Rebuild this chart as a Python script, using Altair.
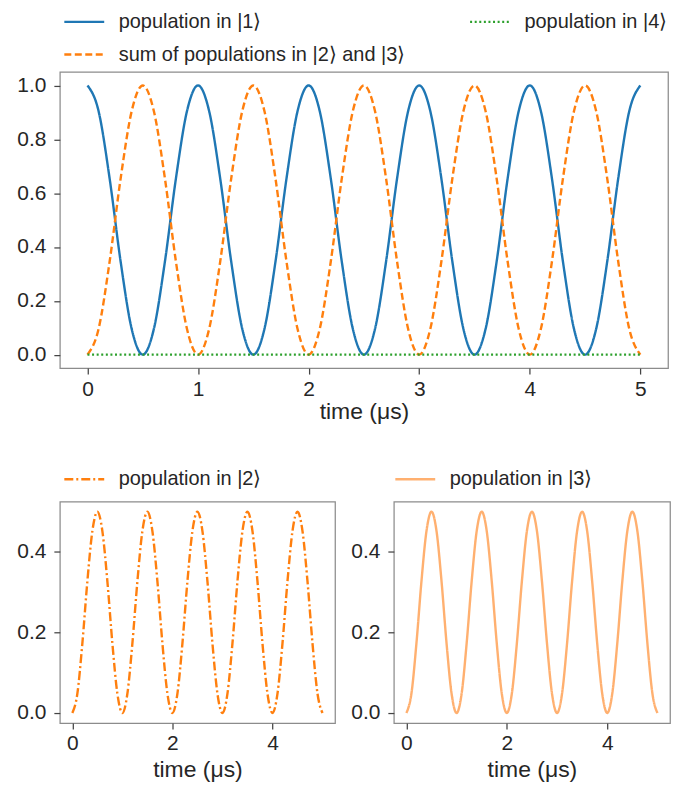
import altair as alt
import pandas as pd

# time grid (microseconds)
time = [0.0, 0.1, 0.2, 0.3, 0.4, 0.5, 0.6, 0.7, 0.8, 0.9,
        1.0, 1.1, 1.2, 1.3, 1.4, 1.5, 1.6, 1.7, 1.8, 1.9,
        2.0, 2.1, 2.2, 2.3, 2.4, 2.5, 2.6, 2.7, 2.8, 2.9,
        3.0, 3.1, 3.2, 3.3, 3.4, 3.5, 3.6, 3.7, 3.8, 3.9,
        4.0, 4.1, 4.2, 4.3, 4.4, 4.5, 4.6, 4.7, 4.8, 4.9,
        5.0]

pop1 = [1.000, 0.905, 0.655, 0.345, 0.095, 0.000, 0.095, 0.345, 0.655, 0.905,
        1.000, 0.905, 0.655, 0.345, 0.095, 0.000, 0.095, 0.345, 0.655, 0.905,
        1.000, 0.905, 0.655, 0.345, 0.095, 0.000, 0.095, 0.345, 0.655, 0.905,
        1.000, 0.905, 0.655, 0.345, 0.095, 0.000, 0.095, 0.345, 0.655, 0.905,
        1.000, 0.905, 0.655, 0.345, 0.095, 0.000, 0.095, 0.345, 0.655, 0.905,
        1.000]

pop23 = [0.000, 0.095, 0.345, 0.655, 0.905, 1.000, 0.905, 0.655, 0.345, 0.095,
         0.000, 0.095, 0.345, 0.655, 0.905, 1.000, 0.905, 0.655, 0.345, 0.095,
         0.000, 0.095, 0.345, 0.655, 0.905, 1.000, 0.905, 0.655, 0.345, 0.095,
         0.000, 0.095, 0.345, 0.655, 0.905, 1.000, 0.905, 0.655, 0.345, 0.095,
         0.000, 0.095, 0.345, 0.655, 0.905, 1.000, 0.905, 0.655, 0.345, 0.095,
         0.000]

pop4 = [0.0, 0.0, 0.0, 0.0, 0.0, 0.0, 0.0, 0.0, 0.0, 0.0,
        0.0, 0.0, 0.0, 0.0, 0.0, 0.0, 0.0, 0.0, 0.0, 0.0,
        0.0, 0.0, 0.0, 0.0, 0.0, 0.0, 0.0, 0.0, 0.0, 0.0,
        0.0, 0.0, 0.0, 0.0, 0.0, 0.0, 0.0, 0.0, 0.0, 0.0,
        0.0, 0.0, 0.0, 0.0, 0.0, 0.0, 0.0, 0.0, 0.0, 0.0,
        0.0]

pop2 = [0.000, 0.048, 0.173, 0.327, 0.452, 0.500, 0.452, 0.327, 0.173, 0.048,
        0.000, 0.048, 0.173, 0.327, 0.452, 0.500, 0.452, 0.327, 0.173, 0.048,
        0.000, 0.048, 0.173, 0.327, 0.452, 0.500, 0.452, 0.327, 0.173, 0.048,
        0.000, 0.048, 0.173, 0.327, 0.452, 0.500, 0.452, 0.327, 0.173, 0.048,
        0.000, 0.048, 0.173, 0.327, 0.452, 0.500, 0.452, 0.327, 0.173, 0.048,
        0.000]

pop3 = [0.000, 0.048, 0.173, 0.327, 0.452, 0.500, 0.452, 0.327, 0.173, 0.048,
        0.000, 0.048, 0.173, 0.327, 0.452, 0.500, 0.452, 0.327, 0.173, 0.048,
        0.000, 0.048, 0.173, 0.327, 0.452, 0.500, 0.452, 0.327, 0.173, 0.048,
        0.000, 0.048, 0.173, 0.327, 0.452, 0.500, 0.452, 0.327, 0.173, 0.048,
        0.000, 0.048, 0.173, 0.327, 0.452, 0.500, 0.452, 0.327, 0.173, 0.048,
        0.000]

L1 = "population in |1⟩"
L4 = "population in |4⟩"
LS = "sum of populations in |2⟩ and |3⟩"
L2 = "population in |2⟩"
L3 = "population in |3⟩"

top_ticks = [0, 1, 2, 3, 4, 5]
top_yticks = [0.0, 0.2, 0.4, 0.6, 0.8, 1.0]
bot_ticks = [0, 2, 4]
bot_yticks = [0.0, 0.2, 0.4]

FONT = "Liberation Sans, Arial, sans-serif"
TXT = "#262626"
FRAME = "#8c8c8c"
XTITLE = "time (μs)"
LW = 2.4

top_df = pd.DataFrame({
    "time": time * 3,
    "value": pop1 + pop23 + pop4,
    "series": [L1] * len(time) + [LS] * len(time) + [L4] * len(time),
})
df2 = pd.DataFrame({"time": time, "value": pop2, "s2": [L2] * len(time)})
df3 = pd.DataFrame({"time": time, "value": pop3, "s3": [L3] * len(time)})


def xaxis(ticks, tpad):
    return alt.Axis(values=ticks, title=XTITLE, grid=False, domain=False,
                    tickColor="#444444", tickSize=6, tickWidth=1.25,
                    labelFontSize=21, titleFontSize=23, labelPadding=4,
                    titlePadding=tpad, labelFont=FONT, titleFont=FONT,
                    labelColor=TXT, titleColor=TXT, titleFontWeight="normal")


def yaxis(ticks):
    return alt.Axis(values=ticks, title=None, grid=False, domain=False, format=".1f",
                    tickColor="#444444", tickSize=6, tickWidth=1.25,
                    labelFontSize=21, labelPadding=8, labelFont=FONT,
                    labelColor=TXT)


def legend(x, y, cols=1, colpad=0):
    return alt.Legend(title=None, orient="none", legendX=x, legendY=y,
                      columns=cols, columnPadding=colpad, rowPadding=11,
                      symbolType="M-2,0H2", symbolSize=400, symbolStrokeWidth=LW,
                      symbolFillColor="transparent",
                      labelFontSize=20, labelFont=FONT, labelColor=TXT,
                      labelOffset=23, padding=0, labelLimit=500)


TOPDOM = [L1, LS, L4]
top_leg = legend(13, -62, cols=2, colpad=59)

top = alt.Chart(top_df).mark_line(strokeWidth=LW, interpolate="monotone").encode(
    x=alt.X("time:Q", scale=alt.Scale(domain=[-0.25, 5.25], nice=False, zero=False),
            axis=xaxis(top_ticks, 2)),
    y=alt.Y("value:Q", scale=alt.Scale(domain=[-0.05, 1.05], nice=False, zero=False),
            axis=yaxis(top_yticks)),
    color=alt.Color("series:N",
                    scale=alt.Scale(domain=TOPDOM,
                                    range=["#1f77b4", "#ff7f0e", "#2ca02c"]),
                    legend=top_leg),
    strokeDash=alt.StrokeDash("series:N",
                              scale=alt.Scale(domain=TOPDOM,
                                              range=[[1, 0], [7, 3.5], [2, 2.6]]),
                              legend=top_leg),
).properties(width=610, height=297)

left = alt.Chart(df2).mark_line(strokeWidth=LW, interpolate="monotone").encode(
    x=alt.X("time:Q", scale=alt.Scale(domain=[-0.25, 5.25], nice=False, zero=False),
            axis=xaxis(bot_ticks, 5)),
    y=alt.Y("value:Q", scale=alt.Scale(domain=[-0.025, 0.525], nice=False, zero=False),
            axis=yaxis(bot_yticks)),
    color=alt.Color("s2:N", scale=alt.Scale(domain=[L2], range=["#ff7f0e"]),
                    legend=legend(13, -34)),
    strokeDash=alt.StrokeDash("s2:N", scale=alt.Scale(domain=[L2], range=[[9, 3, 2, 3]]),
                              legend=legend(13, -34)),
).properties(width=276, height=222)

right = alt.Chart(df3).mark_line(strokeWidth=LW, interpolate="monotone").encode(
    x=alt.X("time:Q", scale=alt.Scale(domain=[-0.25, 5.25], nice=False, zero=False),
            axis=xaxis(bot_ticks, 5)),
    y=alt.Y("value:Q", scale=alt.Scale(domain=[-0.025, 0.525], nice=False, zero=False),
            axis=yaxis(bot_yticks)),
    color=alt.Color("s3:N", scale=alt.Scale(domain=[L3], range=["#ffb070"]),
                    legend=legend(10, -34)),
    strokeDash=alt.StrokeDash("s3:N", scale=alt.Scale(domain=[L3], range=[[1, 0]]),
                              legend=legend(10, -34)),
).properties(width=277, height=222)

bottom = alt.hconcat(left, right, spacing=14).resolve_scale(
    color="independent", strokeDash="independent").resolve_legend(
    color="independent", strokeDash="independent")

chart = alt.vconcat(top, bottom, spacing=42).resolve_scale(
    color="independent", strokeDash="independent").resolve_legend(
    color="independent", strokeDash="independent").properties(
    padding={"left": 8, "top": 0, "right": 0, "bottom": 0},
    background="white",
).configure_view(stroke=FRAME, strokeWidth=1.25)

chart.save("out.html", embed_options={"renderer": "svg", "actions": False})
